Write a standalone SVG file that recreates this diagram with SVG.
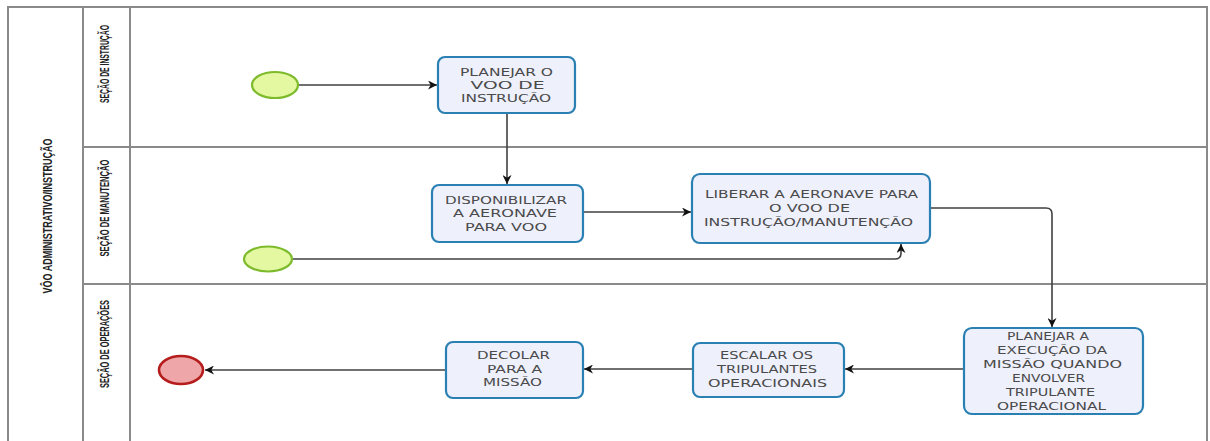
<svg xmlns="http://www.w3.org/2000/svg" width="1210" height="441" viewBox="0 0 1210 441">
<style>
.pool{fill:#fff;stroke:#8a8a8a;stroke-width:2}
.lane{fill:none;stroke:#8a8a8a;stroke-width:2}
.task{fill:#eef0fc;stroke:#2b80b3;stroke-width:2.2}
.tt{font-family:"DejaVu Sans","Liberation Sans",sans-serif;font-size:10px;fill:#4a4a4a;text-anchor:middle}
.lbl{font-family:"Liberation Sans Narrow","Liberation Sans",sans-serif;font-size:12.5px;font-weight:bold;fill:#222;text-anchor:middle}
.start{fill:#e3f8a0;stroke:#7dbb2c;stroke-width:2.2}
.end{fill:#eea6a8;stroke:#b51c1c;stroke-width:2.6}
.flow{fill:none;stroke:#404040;stroke-width:1.6}
</style>
<defs>
<marker id="arr" viewBox="0 0 10 10" refX="10" refY="5" markerWidth="9" markerHeight="9" markerUnits="userSpaceOnUse" orient="auto">
<path d="M0,0 L10,5 L0,10 L3,5 z" fill="#111"/>
</marker>
</defs>
<g id="pool">
<path class="pool" d="M8,446 V7 H1207 V446"/>
<line class="lane" x1="83" y1="7" x2="83" y2="446"/>
<line class="lane" x1="130" y1="7" x2="130" y2="446"/>
<line class="lane" x1="83" y1="147" x2="1207" y2="147"/>
<line class="lane" x1="83" y1="284" x2="1207" y2="284"/>
<text class="lbl" transform="translate(52,216) rotate(-90)" textLength="155" lengthAdjust="spacingAndGlyphs">VÔO ADMINISTRATIVO/INSTRUÇÃO</text>
<text class="lbl" transform="translate(109,64) rotate(-90)" textLength="78" lengthAdjust="spacingAndGlyphs">SEÇÃO DE INSTRUÇÃO</text>
<text class="lbl" transform="translate(109,208) rotate(-90)" textLength="97" lengthAdjust="spacingAndGlyphs">SEÇÃO DE MANUTENÇÃO</text>
<text class="lbl" transform="translate(109,344) rotate(-90)" textLength="88" lengthAdjust="spacingAndGlyphs">SEÇÃO DE OPERAÇÕES</text>
</g>
<g id="connectors">
<path class="flow" d="M299,85 H437" marker-end="url(#arr)"/>
<path class="flow" d="M507,113 V184" marker-end="url(#arr)"/>
<path class="flow" d="M583,212 H691" marker-end="url(#arr)"/>
<path class="flow" d="M293,259 H895 Q901,259 901,253 V244" marker-end="url(#arr)"/>
<path class="flow" d="M930,208 H1046 Q1052,208 1052,214 V327" marker-end="url(#arr)"/>
<path class="flow" d="M964,369 H845" marker-end="url(#arr)"/>
<path class="flow" d="M693,369 H584" marker-end="url(#arr)"/>
<path class="flow" d="M446,370 H205" marker-end="url(#arr)"/>
</g>
<g id="start1"><ellipse class="start" cx="275" cy="85" rx="23" ry="13"/></g>
<g id="start2"><ellipse class="start" cx="268" cy="259" rx="24" ry="12.5"/></g>
<g id="end1"><ellipse class="end" cx="181" cy="370" rx="22" ry="14"/></g>
<g id="task-planejar-voo">
<rect class="task" x="438" y="57" width="137" height="56" rx="7"/>
<text class="tt" x="506.5" y="75.5" textLength="93" lengthAdjust="spacingAndGlyphs">PLANEJAR O</text>
<text class="tt" x="507.5" y="88.5" textLength="74" lengthAdjust="spacingAndGlyphs">VOO DE</text>
<text class="tt" x="506" y="101.5" textLength="90" lengthAdjust="spacingAndGlyphs">INSTRUÇÃO</text>
</g>
<g id="task-disponibilizar">
<rect class="task" x="432" y="185" width="151" height="57" rx="7"/>
<text class="tt" x="506" y="203.5" textLength="122" lengthAdjust="spacingAndGlyphs">DISPONIBILIZAR</text>
<text class="tt" x="505" y="217" textLength="104" lengthAdjust="spacingAndGlyphs">A AERONAVE</text>
<text class="tt" x="506" y="230.5" textLength="82" lengthAdjust="spacingAndGlyphs">PARA VOO</text>
</g>
<g id="task-liberar">
<rect class="task" x="692" y="174" width="238" height="69" rx="8"/>
<text class="tt" x="811.5" y="197.5" textLength="213" lengthAdjust="spacingAndGlyphs">LIBERAR A AERONAVE PARA</text>
<text class="tt" x="809.5" y="211.5" textLength="81" lengthAdjust="spacingAndGlyphs">O VOO DE</text>
<text class="tt" x="808.5" y="225.5" textLength="209" lengthAdjust="spacingAndGlyphs">INSTRUÇÃO/MANUTENÇÃO</text>
</g>
<g id="task-planejar-execucao">
<rect class="task" x="964" y="328" width="179" height="86" rx="8"/>
<text class="tt" x="1048" y="339.5" textLength="82" lengthAdjust="spacingAndGlyphs">PLANEJAR A</text>
<text class="tt" x="1052" y="353.5" textLength="110" lengthAdjust="spacingAndGlyphs">EXECUÇÃO DA</text>
<text class="tt" x="1052.5" y="367.5" textLength="139" lengthAdjust="spacingAndGlyphs">MISSÃO QUANDO</text>
<text class="tt" x="1048.5" y="381.5" textLength="73" lengthAdjust="spacingAndGlyphs">ENVOLVER</text>
<text class="tt" x="1050.5" y="395.5" textLength="89" lengthAdjust="spacingAndGlyphs">TRIPULANTE</text>
<text class="tt" x="1051.5" y="409.5" textLength="109" lengthAdjust="spacingAndGlyphs">OPERACIONAL</text>
</g>
<g id="task-escalar">
<rect class="task" x="693" y="343" width="151" height="54" rx="7"/>
<text class="tt" x="766.5" y="358.5" textLength="93" lengthAdjust="spacingAndGlyphs">ESCALAR OS</text>
<text class="tt" x="767" y="372.5" textLength="100" lengthAdjust="spacingAndGlyphs">TRIPULANTES</text>
<text class="tt" x="767.5" y="386.5" textLength="119" lengthAdjust="spacingAndGlyphs">OPERACIONAIS</text>
</g>
<g id="task-decolar">
<rect class="task" x="446" y="342" width="137" height="56" rx="7"/>
<text class="tt" x="513.5" y="359" textLength="73" lengthAdjust="spacingAndGlyphs">DECOLAR</text>
<text class="tt" x="514.5" y="372.5" textLength="55" lengthAdjust="spacingAndGlyphs">PARA A</text>
<text class="tt" x="512.5" y="386" textLength="59" lengthAdjust="spacingAndGlyphs">MISSÃO</text>
</g>
</svg>
